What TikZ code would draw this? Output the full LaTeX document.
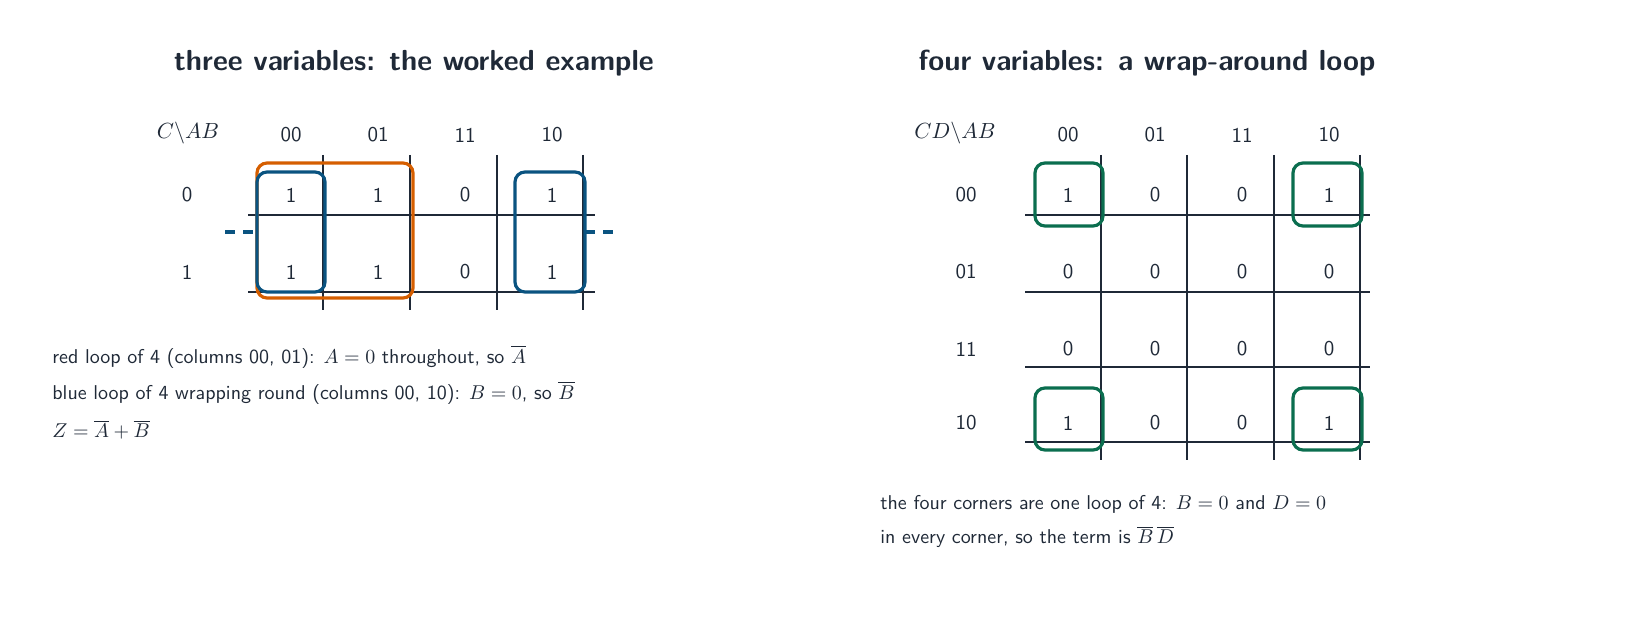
\documentclass[tikz,border=0pt]{standalone}
\usepackage{amsmath}
\usepackage{tikz}
\usetikzlibrary{positioning}
\definecolor{ink}{HTML}{1F2937}
\definecolor{loopred}{HTML}{D55E00}
\definecolor{loopblue}{HTML}{0A5380}
\definecolor{loopgreen}{HTML}{0B6E4F}
\tikzset{
  cell/.style={font=\sffamily\fontsize{10.5}{12}\selectfont, text=ink},
  title/.style={font=\sffamily\bfseries\fontsize{14.5}{17}\selectfont, text=ink},
  note/.style={font=\sffamily\fontsize{10}{12}\selectfont, text=ink, anchor=west, inner sep=0pt},
  kgrid/.style={draw=ink, line width=0.8pt},
  kloop/.style={line width=1.6pt, rounded corners=5pt},
  wrap/.style={line width=1.6pt, dash pattern=on 5pt off 4pt}
}
\begin{document}
\begin{tikzpicture}[x=0.5pt, y=-0.5pt]
		\useasboundingbox (0,0) rectangle (1646,630);
		% Titles
		\node [title] (t3) at (414,63) {three variables: the worked example};
		\node [title] (t4) at (1147,63) {four variables: a wrap-around loop};
		
		% Three-variable map
		\node [cell] (h3) at (188,133) {$C\backslash AB$};
		\foreach \lab [count=\i] in {00,01,11,10}
			\node [cell] (c3\i) at (204+87*\i,135) {\lab};
		\node [cell] (r3a) at (187,195) {0};
		\node [cell] (r3b) at (187,272) {1};
		\foreach \v [count=\i] in {1,1,0,1}
			\node [cell] (m3a\i) at (204+87*\i,195) {\v};
		\foreach \v [count=\i] in {1,1,0,1}
			\node [cell] (m3b\i) at (204+87*\i,272) {\v};
		\foreach \y in {215,292}
			\draw [kgrid] (248,\y) -- (595,\y);
		\foreach \x in {323,410,497,583}
			\draw [kgrid] (\x,155) -- (\x,310);
		
		% Loops
		\draw [kloop, loopred] (257,163) rectangle (413,298);
		\draw [kloop, loopblue] (257,172) rectangle (325,292);
		\draw [kloop, loopblue] (515,172) rectangle (585,292);
		\coordinate (wl) at (225,232);
		\coordinate (wr) at (617,232);
		\draw [wrap, loopblue] (wl) -- (257,232);
		\draw [wrap, loopblue] (585,232) -- (wr);
		
		\node [note] (n1) at (52,357) {red loop of 4 (columns 00, 01): $A=0$ throughout, so $\overline{A}$};
		\node [note] (n2) at (52,393) {blue loop of 4 wrapping round (columns 00, 10): $B=0$, so $\overline{B}$};
		\node [note] (n3) at (52,430) {$Z=\overline{A}+\overline{B}$};
		
		% Four-variable map
		\node [cell] (h4) at (955,133) {$CD\backslash AB$};
		\foreach \lab [count=\i] in {00,01,11,10}
			\node [cell] (c4\i) at (981+87*\i,135) {\lab};
		\foreach \lab/\y [count=\j] in {00/195,01/272,11/349,10/423}
			\node [cell] (r4\j) at (966,\y) {\lab};
		\foreach \row/\y [count=\j] in {{1,0,0,1}/195,{0,0,0,0}/272,{0,0,0,0}/349,{1,0,0,1}/423}
			\foreach \v [count=\i] in \row
				\node [cell] (m4\j\i) at (981+87*\i,\y) {\v};
		\foreach \y in {215,292,367,442}
			\draw [kgrid] (1025,\y) -- (1370,\y);
		\foreach \x in {1101,1187,1274,1360}
			\draw [kgrid] (\x,155) -- (\x,460);
		
		\draw [kloop, loopgreen] (1035,163) rectangle (1103,226);
		\draw [kloop, loopgreen] (1293,163) rectangle (1362,226);
		\draw [kloop, loopgreen] (1035,388) rectangle (1103,450);
		\draw [kloop, loopgreen] (1293,388) rectangle (1362,450);
		
		\node [note] (n4) at (880,504) {the four corners are one loop of 4: $B=0$ and $D=0$};
		\node [note] (n5) at (880,537) {in every corner, so the term is $\overline{B}\,\overline{D}$};
	\end{tikzpicture}
\end{document}
